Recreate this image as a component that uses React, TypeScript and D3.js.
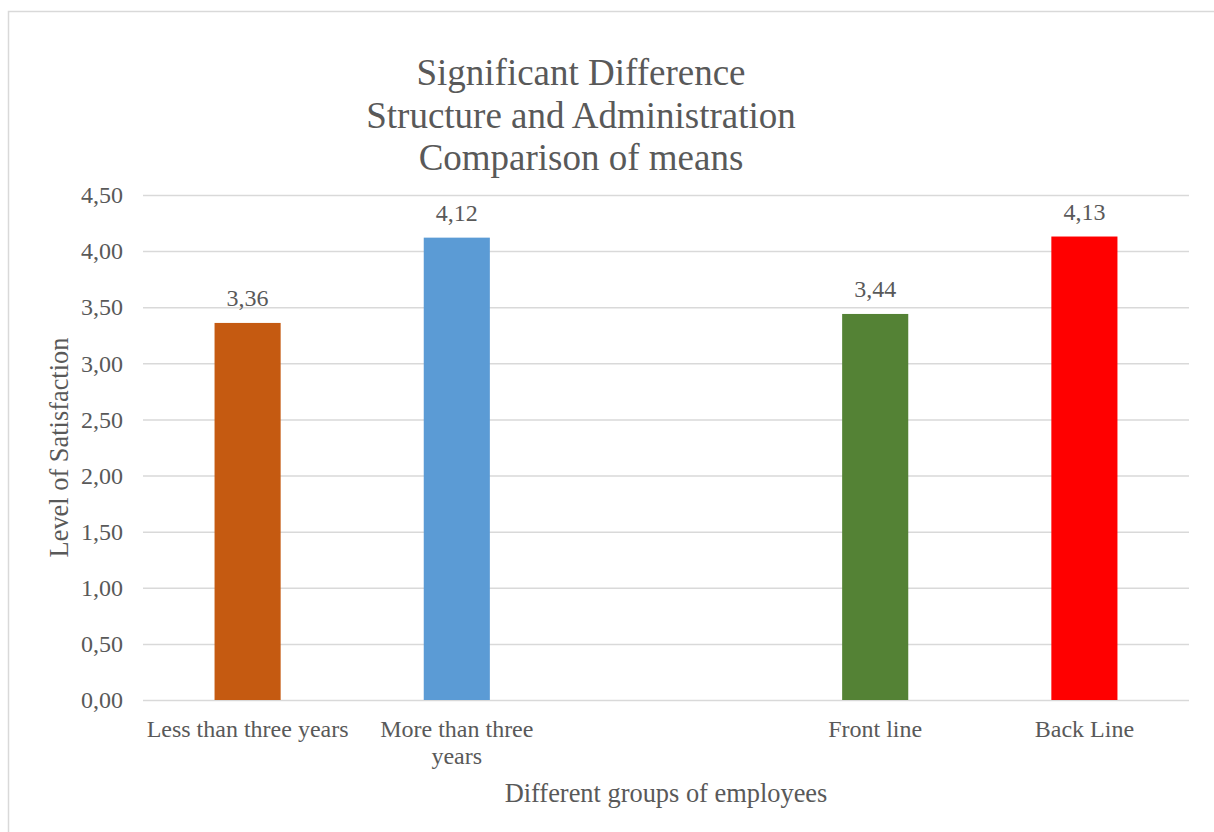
import { axisLeft, scaleBand, scaleLinear, select } from 'd3';
import React, { useEffect, useRef } from 'react';

const titleLines = [
  'Significant Difference',
  'Structure and Administration',
  'Comparison of means',
];
const categories = [
  'Less than three years',
  'More than three years',
  '',
  'Front line',
  'Back Line',
];
const means = [3.36, 4.12, null, 3.44, 4.13];
const barColors = ['#C55A11', '#5B9BD5', 'none', '#548235', '#FF0000'];
const yTicks = [0, 0.5, 1, 1.5, 2, 2.5, 3, 3.5, 4, 4.5];

const W = 1214;
const H = 832;
const plot = { left: 143, right: 1189, top: 195, bottom: 700 };
const textColor = '#595959';
const gridColor = '#d9d9d9';
const font = 'Liberation Serif';

const fmt = (v: number) => v.toFixed(2).replace('.', ',');

// wrap long category names onto extra lines, like Excel does
function wrap(texts: any, width: number) {
  texts.each(function (this: SVGTextElement) {
    const text = select(this);
    const words = text.text().split(/\s+/).reverse();
    const x = text.attr('x');
    const y = text.attr('y');
    let line: string[] = [];
    let lineNo = 0;
    let word;
    let tspan = text.text(null).append('tspan').attr('x', x).attr('y', y);
    while ((word = words.pop())) {
      line.push(word);
      tspan.text(line.join(' '));
      if ((tspan.node() as SVGTSpanElement).getComputedTextLength() > width && line.length > 1) {
        line.pop();
        tspan.text(line.join(' '));
        line = [word];
        lineNo += 1;
        tspan = text
          .append('tspan')
          .attr('x', x)
          .attr('y', +y + lineNo * 27)
          .text(word);
      }
    }
  });
}

const App: React.FC = () => {
  const svgRef = useRef<SVGSVGElement>(null);

  useEffect(() => {
    const svg = select(svgRef.current);
    svg.selectAll('*').remove();

    const xScale = scaleBand<string>()
      .domain(categories.map((c, i) => `${i}`))
      .range([plot.left, plot.right])
      .padding(0);
    const yScale = scaleLinear().domain([0, 4.5]).range([plot.bottom, plot.top]);
    const barWidth = xScale.step() * 0.316;

    // chart border
    svg
      .append('rect')
      .attr('x', 8.5)
      .attr('y', 11.5)
      .attr('width', W)
      .attr('height', H)
      .attr('fill', '#fff')
      .attr('stroke', gridColor)
      .attr('stroke-width', 1.5);

    // title
    svg
      .append('text')
      .attr('fill', textColor)
      .attr('font-family', font)
      .attr('font-size', 37)
      .attr('text-anchor', 'middle')
      .selectAll('tspan')
      .data(titleLines)
      .join('tspan')
      .attr('x', 581)
      .attr('y', (d, i) => 85 + i * 42.5)
      .text((d) => d);

    // gridlines + y ticks
    const yAxis = axisLeft(yScale)
      .tickValues(yTicks)
      .tickSize(-(plot.right - plot.left))
      .tickPadding(20)
      .tickFormat((d) => fmt(+d));
    const gy = svg
      .append('g')
      .attr('transform', `translate(${plot.left},0)`)
      .call(yAxis)
      .attr('font-family', font)
      .attr('font-size', 24);
    gy.select('.domain').remove();
    gy.selectAll('.tick line').attr('stroke', gridColor).attr('stroke-width', 1.5);
    gy.selectAll('.tick text').attr('fill', textColor);

    // bars
    const rows = categories.map((c, i) => ({ key: `${i}`, value: means[i], color: barColors[i] }));
    const filled = rows.filter((r) => r.value !== null) as { key: string; value: number; color: string }[];
    svg
      .selectAll('.bar')
      .data(filled)
      .join('rect')
      .attr('class', 'bar')
      .attr('x', (d) => (xScale(d.key) as number) + xScale.bandwidth() / 2 - barWidth / 2)
      .attr('width', barWidth)
      .attr('y', (d) => yScale(d.value))
      .attr('height', (d) => yScale(0) - yScale(d.value))
      .attr('fill', (d) => d.color);

    // data labels
    svg
      .selectAll('.value')
      .data(filled)
      .join('text')
      .attr('class', 'value')
      .attr('x', (d) => (xScale(d.key) as number) + xScale.bandwidth() / 2)
      .attr('y', (d) => yScale(d.value) - 17)
      .attr('text-anchor', 'middle')
      .attr('fill', textColor)
      .attr('font-family', font)
      .attr('font-size', 24)
      .text((d) => fmt(d.value));

    // category labels
    svg
      .selectAll('.cat')
      .data(rows)
      .join('text')
      .attr('class', 'cat')
      .attr('x', (d) => (xScale(d.key) as number) + xScale.bandwidth() / 2)
      .attr('y', 737)
      .attr('text-anchor', 'middle')
      .attr('fill', textColor)
      .attr('font-family', font)
      .attr('font-size', 24)
      .text((d, i) => categories[i])
      .call(wrap, 206);

    // axis titles
    svg
      .append('text')
      .attr('x', (plot.left + plot.right) / 2)
      .attr('y', 802)
      .attr('text-anchor', 'middle')
      .attr('fill', textColor)
      .attr('font-family', font)
      .attr('font-size', 26.4)
      .text('Different groups of employees');
    svg
      .append('text')
      .attr('transform', `translate(68, ${(plot.top + plot.bottom) / 2}) rotate(-90)`)
      .attr('text-anchor', 'middle')
      .attr('fill', textColor)
      .attr('font-family', font)
      .attr('font-size', 26.4)
      .text('Level of Satisfaction');
  }, []);

  return (
    <div style={{ position: 'absolute', left: 0, top: 0, width: W, height: H, overflow: 'hidden' }}>
      <svg
        ref={svgRef}
        width={W}
        height={H}
        style={{ display: 'block', background: '#fff', fontFamily: font }}
      />
    </div>
  );
};

export default App;
